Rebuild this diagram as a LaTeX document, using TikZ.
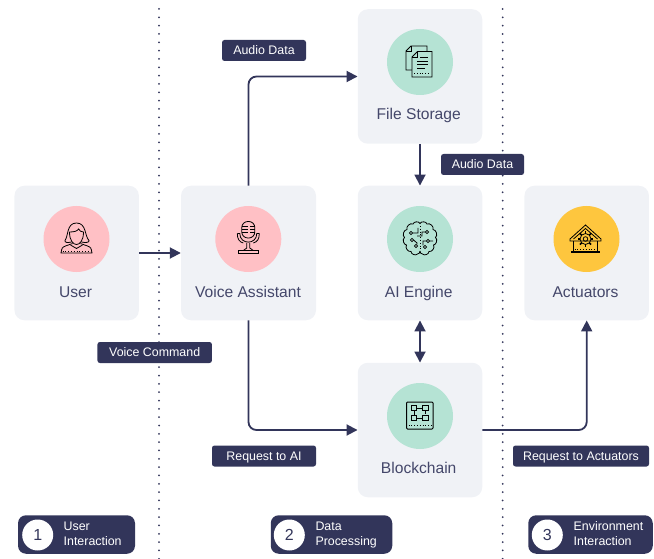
\documentclass[tikz,border=0pt]{standalone}
\usepackage{fontspec}
\setmainfont{Liberation Sans}
\usetikzlibrary{arrows.meta}
\definecolor{navy}{HTML}{32355A}
\definecolor{nametext}{HTML}{44476A}
\definecolor{panel}{HTML}{F0F2F6}
\definecolor{pinkdisc}{HTML}{FFC0C5}
\definecolor{greendisc}{HTML}{B5E3D4}
\definecolor{yellowdisc}{HTML}{FEC63E}
\tikzset{
    panelbox/.style = {fill=panel, rounded corners=10, minimum width=124.5, minimum height=134.5},
    disc/.style = {circle, minimum size=66, inner sep=0},
    nametag/.style = {anchor=base, inner sep=0, text=nametext, font=\fontsize{15.6}{18}\selectfont},
    flow/.style = {draw=navy, line width=1.8, rounded corners=8, -{Triangle[length=11, width=11]}},
    tag/.style = {fill=navy, text=white, rounded corners=2.5, minimum height=21, inner sep=0, text height=8.5, text depth=0, font=\fontsize{12.4}{15}\selectfont},
    stage/.style = {fill=navy, rounded corners=8, minimum height=38.5, inner sep=0},
    stagenum/.style = {circle, fill=white, text=navy, minimum size=31, inner sep=0, font=\fontsize{16}{18}\selectfont},
    stagetext/.style = {text=white, align=left, anchor=west, inner sep=0, text depth=3, font=\fontsize{12.4}{15}\selectfont},
    divider/.style = {draw=navy, line width=2, line cap=round, dash pattern=on 0pt off 8.33pt},
    icon/.style = {line width=0.8, draw=black}
}
\begin{document}
\begin{tikzpicture}[x=1pt, y=-1pt]
    \useasboundingbox (0, 0) rectangle (654, 559);
    \coordinate (dividerAtop) at (159, 9);
    \coordinate (dividerAend) at (159, 559);
    \coordinate (dividerBtop) at (502.7, 9);
    \coordinate (dividerBend) at (502.7, 559);
    \draw [divider] (dividerAtop) -- (dividerAend);
    \draw [divider] (dividerBtop) -- (dividerBend);

    \node [panelbox] (user) at (76.7, 253) {};
    \node [panelbox, minimum width=135] (voice) at (248.5, 253) {};
    \node [panelbox] (storage) at (420, 76.5) {};
    \node [panelbox] (engine) at (420, 253) {};
    \node [panelbox] (actuators) at (586.7, 253) {};
    \node [panelbox] (chain) at (420, 430) {};

    \node [disc, fill=pinkdisc] (userdisc) at (76.5, 239) {};
    \node [disc, fill=pinkdisc] (voicedisc) at (248.3, 239) {};
    \node [disc, fill=greendisc] (storagedisc) at (420, 62) {};
    \node [disc, fill=greendisc] (enginedisc) at (420, 239) {};
    \node [disc, fill=yellowdisc] (actuatorsdisc) at (586.5, 239) {};
    \node [disc, fill=greendisc] (chaindisc) at (420, 416) {};

    \node [nametag] (username) at (75.5, 297) {User};
    \node [nametag] (voicename) at (248, 297) {Voice Assistant};
    \node [nametag] (storagename) at (418.7, 120) {File Storage};
    \node [nametag] (enginename) at (418.7, 297) {AI Engine};
    \node [nametag] (actuatorsname) at (585.5, 297) {Actuators};
    \node [nametag] (chainname) at (418.7, 473) {Blockchain};

    \draw [flow] (user.east) -- (voice.west);
    \draw [flow] (voice.north) |- (storage.west);
    \draw [flow] (voice.south) |- (chain.west);
    \draw [flow] (storage.south) -- (engine.north);
    \draw [flow, {Triangle[length=11, width=11]}-{Triangle[length=11, width=11]}] (engine.south) -- (chain.north);
    \draw [flow] (chain.east) -| (actuators.south);

    \node [tag, minimum width=84] (audiotag) at (264, 50.5) {Audio Data};
    \node [tag, minimum width=83] (audiotagb) at (482.5, 164.5) {Audio Data};
    \node [tag, minimum width=114.5] (commandtag) at (154.7, 352.5) {Voice Command};
    \node [tag, minimum width=104] (requesttag) at (264, 456) {Request to AI};
    \node [tag, minimum width=136] (requesttagb) at (581, 456) {Request to Actuators};

    \node [stage, minimum width=117] (stageone) at (76.5, 534.5) {};
    \node [stagenum] (numone) at (37.7, 535) {1};
    \node [stagetext] (textone) at (63.5, 535.5) {User\\Interaction};
    \node [stage, minimum width=121.5] (stagetwo) at (331.5, 534.5) {};
    \node [stagenum] (numtwo) at (289.3, 535) {2};
    \node [stagetext] (texttwo) at (315.3, 535.5) {Data\\Processing};
    \node [stage, minimum width=124.5] (stagethree) at (590.5, 534.5) {};
    \node [stagenum] (numthree) at (547.3, 535) {3};
    \node [stagetext] (textthree) at (573.5, 535.5) {Environment\\Interaction};

    \begin{scope}[shift={(userdisc.center)}, icon]
        \draw (-5, 3) .. controls (-9, 4) and (-12, 3.5) .. (-11.5, 1.5) .. controls (-8, -3) and (-10, -16) .. (0, -16) .. controls (10, -16) and (8, -3) .. (12.5, 1.5) .. controls (13, 3.5) and (9, 4) .. (5, 3);
        \draw (-7, -7) .. controls (-7, 2) and (-3, 5.5) .. (0, 5.5) .. controls (3, 5.5) and (7, 2) .. (7, -7);
        \draw (-7, -7) .. controls (-2, -7) and (1, -8) .. (2, -10) .. controls (3, -8) and (5, -7) .. (7, -7);
        \draw (-4, 4.5) -- (-11, 7) .. controls (-14.5, 8.5) .. (-15.5, 14) -- (15.5, 14) .. controls (14.5, 8.5) .. (11, 7) -- (4, 4.5);
        \draw (-6, 6) -- (0, 9.5) -- (6, 6);
        \draw [dotted] (-14, 12) -- (14, 12);
    \end{scope}

    \begin{scope}[shift={(voicedisc.center)}, icon]
        \draw [rounded corners=6] (-6.5, -17.5) rectangle (6.5, -1);
        \draw (-6.5, -13) -- (0, -13) (-6.5, -10) -- (0, -10) (-6.5, -7) -- (0, -7) (2, -13) -- (6.5, -13) (2, -10) -- (6.5, -10) (2, -7) -- (6.5, -7);
        \draw (-11, -5.5) -- (-8.5, -5.5) .. controls (-8.5, 6) and (8.5, 6) .. (8.5, -5.5) -- (11, -5.5);
        \draw (-11, -5.5) .. controls (-11, 0) and (-9, 3) .. (-5, 4);
        \draw (11, -5.5) .. controls (11, 0) and (9, 3) .. (5, 4);
        \draw (-1.5, 4) -- (-1.5, 9) -- (-5, 11.5) (1.5, 4) -- (1.5, 9) -- (5, 11.5);
        \draw (-10, 11.5) rectangle (10, 14);
    \end{scope}

    \begin{scope}[shift={(storagedisc.center)}, icon]
        \draw (-8, 8) -- (-14, 8) -- (-14, -11) -- (-9, -16) -- (7, -16) -- (7, -10.5);
        \draw (-14, -11) -- (-9, -11) -- (-9, -16);
        \draw [fill=greendisc] (-8, -5) -- (-2.5, -10.5) -- (12, -10.5) -- (12, 15) -- (-8, 15) -- cycle;
        \draw (-8, -5) -- (-2.5, -5) -- (-2.5, -10.5);
        \draw (0, -5) -- (8, -5) (-3, -1) -- (8, -1) (-3, 2.5) -- (8, 2.5) (-3, 6) -- (5, 6);
        \draw [dotted] (-6, 11) -- (10, 11);
    \end{scope}

    \begin{scope}[shift={(enginedisc.center)}, icon]
        \draw (0, -15.5) to [bend right=70] (-7, -15) to [bend right=70] (-13, -9.5) to [bend right=70] (-15.5, -1.5) to [bend right=70] (-13.5, 6) to [bend right=70] (-9, 12.5) to [bend right=70] (-2.5, 15) to [bend right=50] (0, 12);
        \draw (0, -15.5) to [bend left=70] (7, -15) to [bend left=70] (13, -9.5) to [bend left=70] (15.5, -1.5) to [bend left=70] (13.5, 6) to [bend left=70] (9, 12.5) to [bend left=70] (2.5, 15) to [bend left=50] (0, 12);
        \draw [dotted] (0, -13) -- (0, 12);
        \draw (-9, -6) circle (1.6) (7, -7) circle (1.6) (-8, 1) circle (1.6) (8, 2) circle (1.6) (-4, 7) circle (1.6) (5, 8) circle (1.6);
        \draw (-7.4, -6) -- (-2, -6) -- (-2, -11) (5.4, -7) -- (2, -7) -- (2, -3) -- (-3, -3) (-6.4, 1) -- (-3, 4) -- (-3, 5.4) (6.4, 2) -- (3, 2) -- (3, 6.5) (9.6, 2) -- (13, 2);
    \end{scope}

    \begin{scope}[shift={(actuatorsdisc.center)}, icon]
        \draw (-16.5, 0) -- (-1, -14) -- (14.5, 0) -- (14.5, 2) -- (-16.5, 2) -- cycle;
        \draw (-13, 0) -- (-1, -10.5) -- (11, 0);
        \draw (-13, 2) -- (-13, 13) (11, 2) -- (11, 13);
        \draw [line width=1.1] (-15.5, 13) -- (13.5, 13);
        \draw [dotted] (-12, 10) -- (10, 10);
        \draw (-1, 0) circle (5.5) (-1, 0) circle (2.3);
        \foreach \a in {0, 45, ..., 315} {
            \draw [line width=1.6, shift={(-1, 0)}] (\a:5.5) -- (\a:7.8);
        }
    \end{scope}

    \begin{scope}[shift={(chaindisc.center)}, icon]
        \draw [line width=1, rounded corners=1] (-13.5, -14) rectangle (13, 13);
        \draw (-8.5, -10.5) rectangle (-3.5, -5.5) (2.5, -10.5) rectangle (8, -5.5) (-8.5, -0.5) rectangle (-3.5, 4.5) (2.5, -0.5) rectangle (8, 4.5);
        \draw (-3.5, -8) -- (2.5, -8) (-6, -5.5) -- (-6, -0.5) (5.2, -5.5) -- (5.2, -2.5) (-3.5, 2) -- (2.5, 2);
        \draw [dotted] (-11.5, 9) -- (11, 9);
    \end{scope}
\end{tikzpicture}
\end{document}
